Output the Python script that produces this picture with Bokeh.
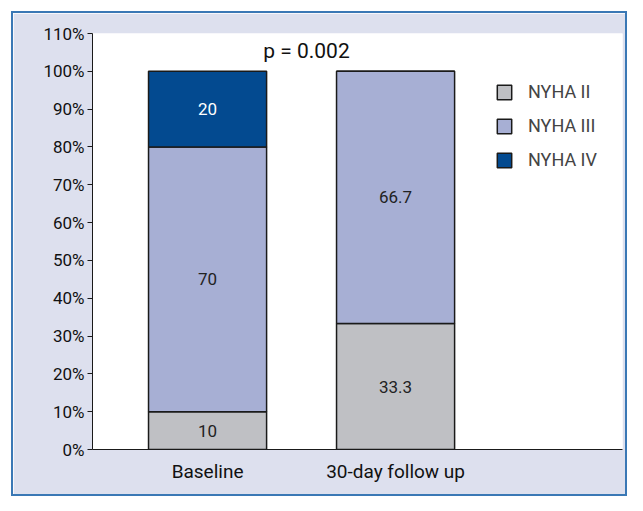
from bokeh.plotting import figure
from bokeh.models import ColumnDataSource, FixedTicker, Legend, LegendItem, Label
from bokeh.embed import file_html
from bokeh.resources import INLINE
from bokeh.core.properties import value

groups = ["Baseline", "30-day follow up"]
classes = ["NYHA II", "NYHA III", "NYHA IV"]
nyha2 = [10, 33.3]
nyha3 = [70, 66.7]
nyha4 = [20, 0]
colors = ["#bfc0c4", "#a7afd4", "#034a90"]
text_colors = ["#222222", "#222222", "#ffffff"]
y_ticks = list(range(0, 111, 10))
p_label = "p = 0.002"

FONT = "Roboto"

p = figure(width=616, height=485, output_backend="svg", toolbar_location=None,
           x_range=(0.388, 3.207), y_range=(0, 110),
           min_border_left=79, min_border_right=7, min_border_top=20, min_border_bottom=49)
p.styles = {"margin-left": "11px", "margin-top": "11px", "border": "2px solid #3a78b5"}
p.border_fill_color = "#dde0ee"
p.background_fill_color = "white"
p.outline_line_color = None
p.grid.grid_line_color = None

xs = [1, 2]
series = [nyha2, nyha3, nyha4]
bottoms = [0, 0]
renderers = []
for name, vals, col, tcol in zip(classes, series, colors, text_colors):
    tops = [b + v for b, v in zip(bottoms, vals)]
    src = ColumnDataSource(dict(x=xs, bottom=bottoms, top=tops, val=vals,
                                mid=[(b + t) / 2 for b, t in zip(bottoms, tops)],
                                lab=[("%g" % v) if v > 0 else "" for v in vals]))
    r = p.vbar(x="x", bottom="bottom", top="top", width=0.628, source=src,
               fill_color=col, line_color="#1a1a1a", line_width=1.5)
    renderers.append(r)
    p.text(x="x", y="mid", text="lab", source=src, text_align="center",
           text_baseline="middle", text_color=tcol, text_font=value(FONT),
           text_font_size="17px")
    bottoms = tops

p.add_layout(Label(x=1.526, y=105.5, text=p_label, text_align="center",
                   text_baseline="middle", text_font=FONT, text_font_size="21px",
                   text_color="#111111"))

legend = Legend(items=[LegendItem(label=c, renderers=[r]) for c, r in zip(classes, renderers)],
                location=(403, 279), border_line_color=None, background_fill_alpha=0,
                label_text_font=FONT, label_text_font_size="18px",
                glyph_width=18, glyph_height=18, spacing=13, label_standoff=15)
p.add_layout(legend)

p.xaxis.ticker = FixedTicker(ticks=xs)
p.xaxis.major_label_overrides = {1: groups[0], 2: groups[1]}
p.xaxis.major_tick_line_color = None
p.xaxis.minor_tick_line_color = None
p.xaxis.axis_line_color = "#1a1a1a"
p.xaxis.major_label_text_font = FONT
p.xaxis.major_label_text_font_size = "19px"
p.xaxis.major_label_text_color = "#111111"
p.xaxis.major_label_standoff = 4

p.yaxis.ticker = FixedTicker(ticks=y_ticks)
p.yaxis.major_label_overrides = {t: f"{t}%" for t in y_ticks}
p.yaxis.minor_tick_line_color = None
p.yaxis.major_tick_out = 5
p.yaxis.major_tick_in = 0
p.yaxis.axis_line_color = "#1a1a1a"
p.yaxis.major_tick_line_color = "#1a1a1a"
p.yaxis.major_label_text_font = FONT
p.yaxis.major_label_text_font_size = "17px"
p.yaxis.major_label_text_color = "#111111"
p.yaxis.major_label_standoff = 3

open("out.html", "w").write(file_html(p, INLINE))
